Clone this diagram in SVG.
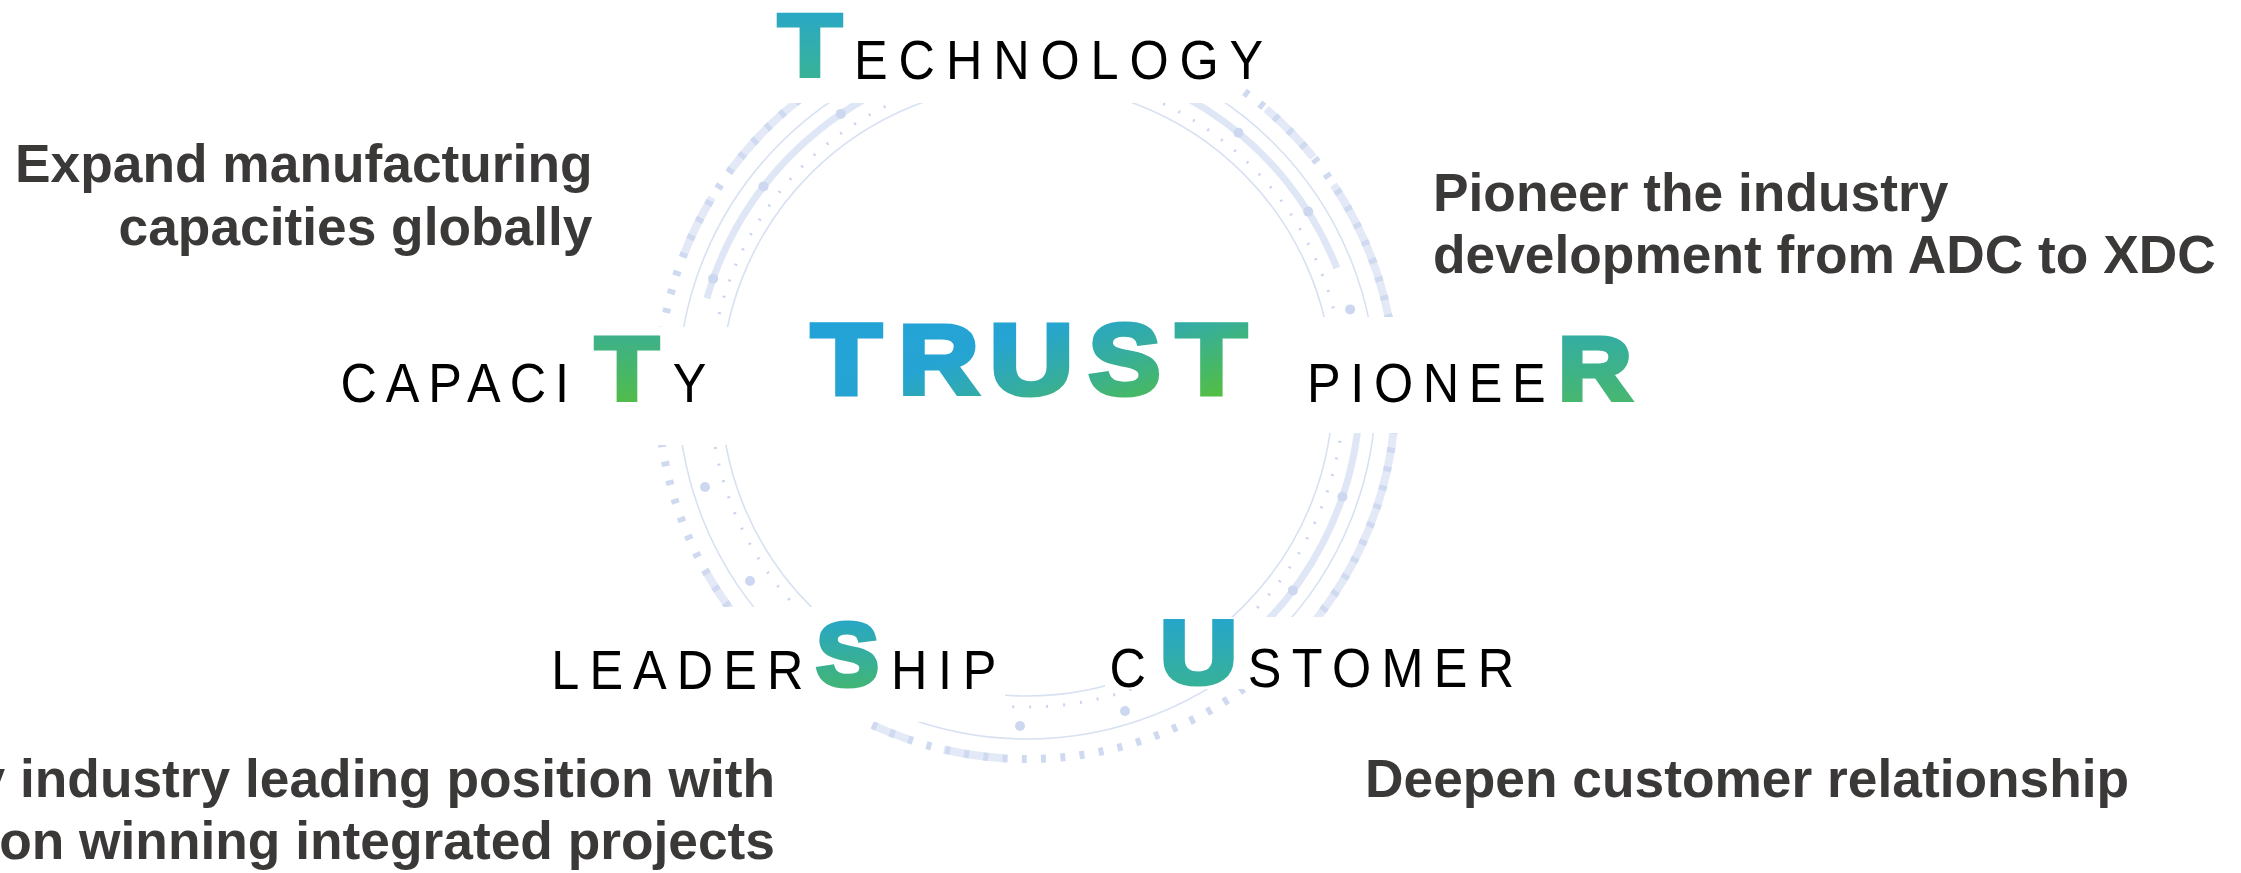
<svg xmlns="http://www.w3.org/2000/svg" xmlns:xlink="http://www.w3.org/1999/xlink" width="2241" height="873" viewBox="0 0 2241 873">
  <defs>
    <style>
      .thin{fill:none;stroke:#d8e1f2;stroke-width:1.6}
      .dots{fill:none;stroke:#c9d5ee;stroke-width:3;stroke-dasharray:2 15.02}
      .band{fill:none;stroke:#dfe6f5;stroke-width:7}
      .knot{fill:#cdd8f0}
      .outer{fill:none;stroke:#e3e9f6;stroke-width:8}
      .ticks{fill:none;stroke:#cfdaf0;stroke-width:8;stroke-dasharray:5 14.32}
      .mask{fill:#fff}
      .cap{font-family:"Liberation Sans",Arial,sans-serif;font-size:56px;fill:#000}
      .big{font-family:"Liberation Sans",Arial,sans-serif;font-weight:700;stroke-width:5;stroke-linejoin:miter;text-anchor:middle}
      .desc{font-family:"Liberation Sans",Arial,sans-serif;font-weight:700;font-size:53.3px;fill:#3b3838}
    </style>
    <!-- per-letter vertical gradients -->
    <linearGradient id="gTech" x1="0" y1="0" x2="0" y2="1">
      <stop offset="0" stop-color="#26a5d2"/><stop offset="1" stop-color="#3cb58c"/>
    </linearGradient>
    <linearGradient id="gCap" x1="0" y1="0" x2="0" y2="1">
      <stop offset="0" stop-color="#37ae9b"/><stop offset="1" stop-color="#56be3c"/>
    </linearGradient>
    <linearGradient id="gPio" x1="0" y1="0" x2="0" y2="1">
      <stop offset="0" stop-color="#2eabb0"/><stop offset="1" stop-color="#4cb964"/>
    </linearGradient>
    <linearGradient id="gLead" x1="0" y1="0" x2="0" y2="1">
      <stop offset="0" stop-color="#22a4d8"/><stop offset="1" stop-color="#48b863"/>
    </linearGradient>
    <linearGradient id="gCust" x1="0" y1="0" x2="0" y2="1">
      <stop offset="0" stop-color="#22a3d7"/><stop offset="1" stop-color="#3bb48b"/>
    </linearGradient>
    <!-- word gradient in page coordinates; each letter maps it back through its own transform -->
    <linearGradient id="gTrust" gradientUnits="userSpaceOnUse" x1="846" y1="320" x2="916" y2="514">
      <stop offset="0" stop-color="#23a2d7"/>
      <stop offset="0.35" stop-color="#25a4d3"/>
      <stop offset="0.6" stop-color="#35ada0"/>
      <stop offset="0.8" stop-color="#45b76c"/>
      <stop offset="1" stop-color="#57c03a"/>
    </linearGradient>
    <linearGradient id="gTr1" xlink:href="#gTrust" gradientTransform="matrix(0.8621,0,0,1,-729.74,-393.5)"/>
    <linearGradient id="gTr2" xlink:href="#gTrust" gradientTransform="matrix(0.8929,0,0,1,-837.95,-393.5)"/>
    <linearGradient id="gTr3" xlink:href="#gTrust" gradientTransform="matrix(0.8547,0,0,1,-881.62,-393.5)"/>
    <linearGradient id="gTr4" xlink:href="#gTrust" gradientTransform="matrix(0.9174,0,0,1,-1031.65,-393.5)"/>
    <linearGradient id="gTr5" xlink:href="#gTrust" gradientTransform="matrix(0.8621,0,0,1,-1044.40,-393.5)"/>
  </defs>

  <rect width="2241" height="873" fill="#fff"/>

  <!-- decorative rings around the centre -->
  <g id="ring">
    <circle class="thin" cx="1027" cy="390" r="306"/>
    <circle class="dots" cx="1027" cy="390" r="317"/>
    <path class="band" d="M706.9,298.2 A333,333 0 0 1 1336.8,268.0"/>
    <path class="band" d="M1360,390 A333,333 0 0 1 1218,662.8"/>
    <g class="knot">
      <circle cx="840.8" cy="113.9" r="5"/>
      <circle cx="763.5" cy="186.4" r="5"/>
      <circle cx="713.1" cy="278.8" r="5"/>
      <circle cx="1238.4" cy="132.7" r="5"/>
      <circle cx="1308.2" cy="211.6" r="5"/>
      <circle cx="1350.1" cy="309.4" r="5"/>
      <circle cx="1342.4" cy="496.8" r="5"/>
      <circle cx="1292.9" cy="590.4" r="5"/>
      <circle cx="1125" cy="711" r="5"/>
      <circle cx="1020" cy="726" r="5"/>
      <circle cx="750" cy="581" r="5"/>
      <circle cx="705" cy="487" r="5"/>
    </g>
    <circle class="thin" cx="1027" cy="390" r="349"/>
    <path class="outer" d="M684.2,253.6 A369,369 0 0 1 712.0,197.7"/>
    <path class="outer" d="M730.4,170.5 A369,369 0 0 1 900.8,43.3"/>
    <path class="outer" d="M1266.1,109.0 A369,369 0 0 1 1313.3,157.3"/>
    <path class="outer" d="M1333.6,184.7 A369,369 0 0 1 1287.9,650.9"/>
    <path class="outer" d="M1003.2,758.2 A369,369 0 0 1 944,749.5"/>
    <path class="outer" d="M908.1,739.3 A369,369 0 0 1 872.8,725.2"/>
    <path class="outer" d="M766.1,650.9 A369,369 0 0 1 704.9,570.0"/>
    <circle class="ticks" cx="1027" cy="390" r="369"/>
  </g>

  <g id="node-technology">
    <rect class="mask" x="700" y="0" width="535" height="103"/>
    <g transform="translate(810,74.5) scale(1.17,1)">
      <text class="big" font-size="88" fill="url(#gTech)" stroke="url(#gTech)">T</text>
    </g>
    <text class="cap" transform="translate(854.1,79) scale(0.9,1)" letter-spacing="12.1">ECHNOLOGY</text>
  </g>

  <g id="node-capacity">
    <rect class="mask" x="330" y="327" width="410" height="118"/>
    <text class="cap" transform="translate(340.5,402) scale(0.9,1)" letter-spacing="9.9">CAPACI</text>
    <g transform="translate(627,398.5) scale(1.157,1)">
      <text class="big" font-size="89" fill="url(#gCap)" stroke="url(#gCap)">T</text>
    </g>
    <text class="cap" transform="translate(689.5,402) scale(0.9,1)" text-anchor="middle">Y</text>
  </g>

  <g id="node-pioneer">
    <rect class="mask" x="1305" y="317" width="345" height="116"/>
    <text class="cap" transform="translate(1307.1,402) scale(0.9,1)" letter-spacing="10.7">PIONEE</text>
    <g transform="translate(1594.8,398.5) scale(1.14,1)">
      <text class="big" font-size="89" fill="url(#gPio)" stroke="url(#gPio)">R</text>
    </g>
  </g>

  <g id="node-leadership">
    <rect class="mask" x="540" y="607" width="465" height="115"/>
    <text class="cap" transform="translate(551.3,688.5) scale(0.9,1)" letter-spacing="11.2">LEADER</text>
    <g transform="translate(847.5,685.2) scale(1.06,1)">
      <text class="big" font-size="88.5" fill="url(#gLead)" stroke="url(#gLead)">S</text>
    </g>
    <text class="cap" transform="translate(891,688.5) scale(0.9,1)" letter-spacing="11.9">HIP</text>
  </g>

  <g id="node-customer">
    <rect class="mask" x="1105" y="617" width="425" height="72"/>
    <text class="cap" transform="translate(1109.5,687) scale(0.9,1)">C</text>
    <g transform="translate(1198.5,683.2) scale(1.2,1)">
      <text class="big" font-size="89" fill="url(#gCust)" stroke="url(#gCust)">U</text>
    </g>
    <text class="cap" transform="translate(1247.7,687) scale(0.9,1)" letter-spacing="11.5">STOMER</text>
  </g>

  <g id="node-trust">
    <g transform="translate(846.5,393.5) scale(1.16,1)">
      <text class="big" font-size="99.2" fill="url(#gTr1)" stroke="url(#gTr1)">T</text>
    </g>
    <g transform="translate(938.5,393.5) scale(1.12,1)">
      <text class="big" font-size="99.2" fill="url(#gTr2)" stroke="url(#gTr2)">R</text>
    </g>
    <g transform="translate(1031.5,393.5) scale(1.17,1)">
      <text class="big" font-size="99.2" fill="url(#gTr3)" stroke="url(#gTr3)">U</text>
    </g>
    <g transform="translate(1124.5,393.5) scale(1.09,1)">
      <text class="big" font-size="99.2" fill="url(#gTr4)" stroke="url(#gTr4)">S</text>
    </g>
    <g transform="translate(1211.5,393.5) scale(1.16,1)">
      <text class="big" font-size="99.2" fill="url(#gTr5)" stroke="url(#gTr5)">T</text>
    </g>
  </g>

  <g id="desc-capacity">
    <text class="desc" x="592.5" y="182" text-anchor="end">Expand manufacturing</text>
    <text class="desc" x="592.5" y="245" text-anchor="end">capacities globally</text>
  </g>

  <g id="desc-pioneer">
    <text class="desc" x="1433" y="211">Pioneer the industry</text>
    <text class="desc" x="1433" y="273">development from ADC to XDC</text>
  </g>

  <g id="desc-leadership">
    <text class="desc" x="775" y="797" text-anchor="end">y industry leading position with</text>
    <text class="desc" x="775" y="859" text-anchor="end">on winning integrated projects</text>
  </g>

  <g id="desc-customer">
    <text class="desc" x="1365" y="797">Deepen customer relationship</text>
  </g>
</svg>
